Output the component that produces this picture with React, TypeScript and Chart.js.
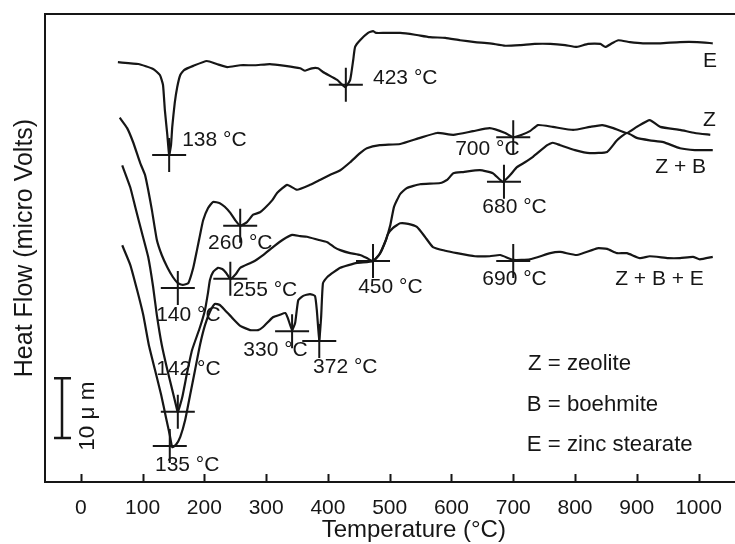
import React, { useEffect, useRef } from 'react';
import { Chart, registerables } from 'chart.js';

Chart.register(...registerables);

const INK = '#161616';
const FONT = '"Liberation Sans", Arial, Helvetica, sans-serif';

// Axis
const xTicks = [0, 100, 200, 300, 400, 500, 600, 700, 800, 900, 1000];
const xMin = -58;
const xMax = 1059;
const yMin = 0;
const yMax = 76.7;
const xTitle = 'Temperature (°C)';
const xTitleCenterTemp = 539;
const yTitle = 'Heat Flow (micro Volts)';

// E (zinc stearate)
const eTemp = [60, 93, 117, 128, 133, 136, 140, 143, 146, 148, 152, 156, 161, 167, 182, 204, 220, 237, 258, 282, 306, 331, 355, 363, 374, 384, 392, 415, 428, 436, 441, 444, 452, 465, 473, 478, 492, 517, 541, 565, 590, 614, 638, 662, 687, 711, 735, 760, 784, 803, 821, 841, 849, 860, 870, 889, 910, 938, 970, 998, 1023];
const eFlow = [68.8, 68.5, 67.7, 66.7, 65.1, 61.0, 56.9, 53.6, 55.2, 58.2, 62.1, 64.7, 66.7, 67.5, 68.2, 69.0, 68.5, 68.0, 68.3, 68.3, 68.5, 68.2, 67.8, 67.4, 67.8, 67.8, 67.2, 65.9, 64.7, 65.9, 69.2, 71.3, 72.4, 73.6, 73.9, 73.6, 73.6, 73.6, 73.3, 72.9, 72.8, 72.4, 72.1, 71.9, 71.5, 71.6, 71.8, 71.8, 71.6, 71.3, 71.8, 71.8, 71.3, 71.9, 72.4, 72.1, 71.9, 71.9, 72.1, 72.1, 71.9];

// Z (zeolite)
const zTemp = [63, 75, 85, 96, 104, 109, 115, 123, 131, 140, 149, 157, 165, 174, 182, 188, 193, 198, 206, 214, 225, 233, 242, 250, 258, 269, 279, 290, 298, 310, 318, 334, 350, 371, 387, 403, 420, 436, 452, 463, 484, 517, 549, 577, 603, 635, 662, 687, 700, 714, 727, 740, 764, 797, 824, 844, 862, 884, 900, 921, 938, 970, 994, 1019];
const zFlow = [59.7, 58.0, 55.6, 52.3, 50.3, 47.9, 44.6, 39.7, 37.2, 35.2, 33.6, 32.6, 32.3, 32.6, 35.1, 38.0, 40.5, 42.9, 44.9, 45.9, 45.7, 45.1, 44.1, 42.9, 42.0, 42.6, 43.8, 44.2, 44.9, 46.2, 47.4, 48.7, 47.9, 48.7, 49.5, 50.3, 51.1, 52.4, 53.9, 54.7, 55.2, 55.4, 56.4, 57.2, 56.9, 57.5, 58.0, 57.2, 56.5, 56.9, 57.5, 58.5, 58.2, 57.7, 58.2, 58.5, 58.0, 57.2, 58.2, 59.3, 58.2, 57.7, 57.2, 56.9];

// Z + B
const zbTemp = [67, 80, 88, 99, 109, 117, 123, 131, 140, 148, 154, 157, 164, 172, 180, 193, 201, 206, 209, 214, 222, 229, 235, 242, 251, 258, 279, 295, 311, 327, 342, 355, 366, 384, 399, 410, 420, 436, 452, 463, 473, 484, 494, 501, 507, 517, 528, 549, 582, 593, 603, 619, 646, 667, 683, 695, 706, 719, 732, 755, 764, 776, 800, 824, 852, 868, 884, 900, 921, 943, 970, 994, 1023];
const zbFlow = [51.9, 48.3, 45.1, 40.8, 36.9, 32.0, 27.4, 22.5, 18.4, 15.1, 12.6, 11.5, 13.8, 17.9, 21.6, 25.4, 28.2, 31.1, 33.1, 34.4, 35.1, 34.9, 34.3, 33.3, 34.1, 35.1, 36.1, 37.2, 38.5, 39.7, 40.5, 40.3, 40.2, 39.7, 39.3, 38.5, 38.0, 37.5, 37.2, 36.7, 36.2, 37.4, 39.7, 42.1, 45.1, 47.2, 48.2, 48.8, 49.0, 49.5, 50.6, 50.8, 51.1, 50.6, 49.2, 50.3, 51.6, 52.4, 53.3, 55.2, 55.6, 55.2, 54.4, 53.9, 54.1, 56.0, 57.2, 56.4, 56.0, 55.7, 54.7, 54.4, 54.4];

// Z + B + E
const zbeTemp = [67, 80, 91, 101, 110, 120, 130, 138, 144, 148, 154, 161, 169, 177, 185, 193, 201, 209, 217, 225, 233, 245, 258, 274, 287, 295, 311, 322, 331, 335, 342, 347, 352, 360, 371, 379, 382, 386, 389, 392, 399, 420, 447, 473, 484, 494, 497, 505, 517, 530, 544, 557, 570, 590, 609, 638, 662, 679, 700, 727, 760, 776, 803, 836, 852, 868, 884, 905, 921, 951, 970, 991, 1002, 1023];
const zbeFlow = [38.8, 35.6, 31.5, 27.4, 22.5, 18.4, 14.3, 10.5, 7.7, 5.7, 6.1, 7.4, 10.2, 14.3, 18.4, 22.5, 25.7, 27.9, 29.2, 29.0, 28.2, 26.9, 25.6, 24.9, 24.9, 25.4, 27.0, 27.4, 27.7, 26.9, 24.9, 26.1, 29.8, 30.5, 30.8, 30.5, 28.2, 23.3, 27.0, 32.6, 33.6, 35.1, 35.9, 36.2, 37.4, 39.7, 40.6, 41.6, 42.4, 42.3, 41.8, 40.2, 38.5, 37.9, 37.5, 37.0, 37.0, 37.2, 36.4, 36.5, 37.5, 37.7, 37.2, 38.3, 38.2, 37.5, 37.5, 36.7, 37.0, 36.7, 36.7, 36.9, 36.5, 36.9];

// Peak markers (crosshairs)
const markerTemp = [143, 429, 157, 258, 242, 157, 144, 342, 386, 473, 700, 685, 700];
const markerFlow = [53.6, 65.1, 31.8, 42.0, 33.3, 11.5, 5.9, 24.7, 23.1, 36.2, 56.5, 49.2, 36.2];

// Text annotations
const labelText = ['138 °C', '423 °C', 'E', 'Z', 'Z + B', '700 °C', '680 °C', '260 °C', '140 °C', '255 °C', '450 °C', '690 °C', 'Z + B + E', '330 °C', '372 °C', '142 °C', '135 °C'];
const labelTemp = [164, 473, 1007, 1007, 930, 606, 650, 206, 122, 246, 449, 650, 865, 263, 376, 122, 120];
const labelFlow = [56.0, 66.2, 69.0, 59.3, 51.6, 54.6, 45.1, 39.2, 27.4, 31.5, 32.0, 33.3, 33.3, 21.6, 18.8, 18.5, 2.8];

// Key
const keyText = ['Z = zeolite', 'B = boehmite', 'E = zinc stearate'];
const keyTemp = [724, 722, 722];
const keyFlow = [19.3, 12.6, 6.1];

// Scale bar
const scaleBarTemp = -30;
const scaleBarFrom = 7.2;
const scaleBarTo = 17.0;
const scaleBarText = '10 μ m';
const scaleBarTextTemp = 12;
const scaleBarTextFlow = 10.8;

const zip = (xs: number[], ys: number[]) => xs.map((x, i) => ({ x, y: ys[i] }));

const decorPlugin = {
  id: 'decor',
  afterDatasetsDraw(chart: any) {
    const { ctx, chartArea, scales } = chart;
    const xs = scales.x;
    const ys = scales.y;
    ctx.save();
    ctx.strokeStyle = INK;
    ctx.fillStyle = INK;

    // top frame line
    ctx.lineWidth = 2;
    ctx.beginPath();
    ctx.moveTo(chartArea.left - 1, chartArea.top);
    ctx.lineTo(chartArea.right, chartArea.top);
    ctx.stroke();

    // inward tick marks
    ctx.beginPath();
    for (const t of xTicks) {
      const px = Math.round(xs.getPixelForValue(t)) + 0.5;
      ctx.moveTo(px, chartArea.bottom);
      ctx.lineTo(px, chartArea.bottom - 8);
    }
    ctx.stroke();

    // x-axis title (offset to the right as in the source figure)
    ctx.font = `24px ${FONT}`;
    ctx.textAlign = 'center';
    ctx.textBaseline = 'middle';
    ctx.fillText(xTitle, xs.getPixelForValue(xTitleCenterTemp), xs.bottom - 13.5);

    // scale bar
    const bx = Math.round(xs.getPixelForValue(scaleBarTemp));
    const by1 = ys.getPixelForValue(scaleBarFrom);
    const by2 = ys.getPixelForValue(scaleBarTo);
    ctx.lineWidth = 2.5;
    ctx.beginPath();
    ctx.moveTo(bx, by1);
    ctx.lineTo(bx, by2);
    ctx.moveTo(bx - 8, by1);
    ctx.lineTo(bx + 9, by1);
    ctx.moveTo(bx - 8, by2);
    ctx.lineTo(bx + 9, by2);
    ctx.stroke();

    ctx.save();
    ctx.translate(xs.getPixelForValue(scaleBarTextTemp), ys.getPixelForValue(scaleBarTextFlow));
    ctx.rotate(-Math.PI / 2);
    ctx.font = `22.5px ${FONT}`;
    ctx.textAlign = 'center';
    ctx.textBaseline = 'middle';
    ctx.fillText(scaleBarText, 0, 0);
    ctx.restore();

    // peak labels
    ctx.font = `21px ${FONT}`;
    ctx.textAlign = 'left';
    ctx.textBaseline = 'middle';
    labelText.forEach((t, i) => {
      ctx.fillText(t, xs.getPixelForValue(labelTemp[i]), ys.getPixelForValue(labelFlow[i]));
    });

    // key
    ctx.font = `22.2px ${FONT}`;
    keyText.forEach((t, i) => {
      ctx.fillText(t, xs.getPixelForValue(keyTemp[i]), ys.getPixelForValue(keyFlow[i]));
    });
    ctx.restore();
  },
};

export default function App() {
  const canvasRef = useRef<HTMLCanvasElement | null>(null);

  useEffect(() => {
    document.body.style.margin = '0';
    const canvas = canvasRef.current;
    if (!canvas) return;
    const lineDs = (label: string, xs: number[], ys: number[]) => ({
      label,
      data: zip(xs, ys),
      borderColor: INK,
      backgroundColor: INK,
      borderWidth: 2.2,
      pointRadius: 0,
      tension: 0.15,
      fill: false,
    });
    const chart = new Chart(canvas, {
      type: 'line',
      data: {
        datasets: [
          lineDs('E', eTemp, eFlow),
          lineDs('Z', zTemp, zFlow),
          lineDs('Z + B', zbTemp, zbFlow),
          lineDs('Z + B + E', zbeTemp, zbeFlow),
          {
            label: 'peaks',
            data: zip(markerTemp, markerFlow),
            showLine: false,
            pointStyle: 'cross',
            pointRadius: 17,
            pointHoverRadius: 17,
            borderColor: INK,
            backgroundColor: INK,
            borderWidth: 2,
          } as any,
        ],
      },
      options: {
        animation: false,
        responsive: false,
        events: [],
        layout: { autoPadding: false, padding: { top: 14, left: 0, right: 0, bottom: 0 } },
        plugins: { legend: { display: false }, tooltip: { enabled: false } },
        scales: {
          x: {
            type: 'linear',
            min: xMin,
            max: xMax,
            afterBuildTicks: (s: any) => {
              s.ticks = xTicks.map((v) => ({ value: v }));
            },
            afterFit: (s: any) => {
              s.height = 62;
            },
            grid: { display: false },
            border: { display: true, color: INK, width: 2 },
            ticks: {
              color: INK,
              font: { family: FONT, size: 21 },
              padding: 6,
              maxRotation: 0,
              autoSkip: false,
              callback: (v: any) => String(v),
            },
            title: { display: false, text: xTitle },
          },
          y: {
            type: 'linear',
            min: yMin,
            max: yMax,
            afterFit: (s: any) => {
              s.width = 45;
            },
            grid: { display: false },
            border: { display: true, color: INK, width: 2 },
            ticks: { display: false },
            title: {
              display: true,
              text: yTitle,
              color: INK,
              font: { family: FONT, size: 25 },
              padding: { top: 10, bottom: 0 },
            },
          },
        },
      } as any,
      plugins: [decorPlugin],
    });
    return () => chart.destroy();
  }, []);

  return (
    <div style={{ width: 735, height: 544 }}>
      <canvas ref={canvasRef} width={735} height={544} style={{ display: 'block' }} />
    </div>
  );
}
